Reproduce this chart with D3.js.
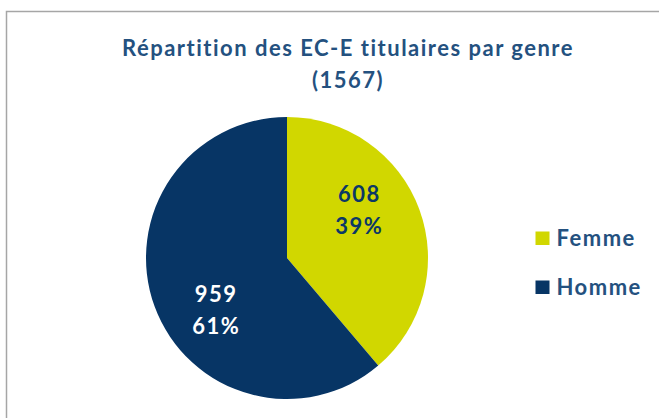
<!DOCTYPE html>
<html><head><meta charset="utf-8">
<script src="https://cdn.jsdelivr.net/npm/d3@7"></script>
<style>html,body{margin:0;padding:0;background:#fff;}svg{display:block;}</style>
</head><body>
<svg id="c" width="659" height="418"></svg>
<script>
const categories = ["Femme", "Homme"];
const values = [608, 959];
const percentLabels = ["39%", "61%"];
const colors = ["#D1D700", "#073565"];
const labelColors = ["#0B3866", "#FFFFFF"];
const titleLines = ["Répartition des EC-E titulaires par genre", "(1567)"];

const svg = d3.select("#c");
const font = "Lato, 'Open Sans', sans-serif";
const titleColor = "#24517F";
const ls = 1.5;

// frame
svg.append("path").attr("d", "M6.5,418 L6.5,11.5 L659,11.5")
  .attr("fill", "none").attr("stroke", "#A6A6A6").attr("stroke-width", 1.5);

// title
svg.append("text").attr("x", 348).attr("y", 56).attr("text-anchor", "middle")
  .attr("font-family", font).attr("font-weight", 700).attr("font-size", 22)
  .attr("letter-spacing", ls).attr("fill", titleColor)
  .selectAll("tspan").data(titleLines).join("tspan")
  .attr("x", 348).attr("dy", (d, i) => i ? 32 : 0).text(d => d);

const cx = 287, cy = 258, r = 141;
const g = svg.append("g").attr("transform", `translate(${cx},${cy})`);
const pie = d3.pie().sort(null).value(d => d.v);
const data = pie(categories.map((c, i) => ({c, v: values[i], p: percentLabels[i], i})));
const arc = d3.arc().innerRadius(0).outerRadius(r);
g.selectAll("path.s").data(data).join("path").attr("class", "s")
  .attr("d", arc).attr("fill", d => colors[d.data.i]);

const lr = 0.62 * r, shift = 0.26;
const lbl = g.selectAll("text.l").data(data).join("text").attr("class", "l")
  .attr("text-anchor", "middle").attr("font-family", font).attr("font-weight", 700)
  .attr("font-size", 22).attr("letter-spacing", ls).attr("fill", d => labelColors[d.data.i])
  .attr("transform", d => {
    const a = (d.startAngle + d.endAngle) / 2 - shift;
    return `translate(${Math.sin(a) * lr + ls / 2},${-Math.cos(a) * lr})`;
  });
lbl.append("tspan").attr("x", 0).attr("y", -6).text(d => d.data.v);
lbl.append("tspan").attr("x", 0).attr("y", 26).text(d => d.data.p);

// legend
const leg = svg.append("g").selectAll("g").data(categories).join("g")
  .attr("transform", (d, i) => `translate(535.5,${231.5 + i * 49})`);
leg.append("rect").attr("width", 14).attr("height", 13.5).attr("fill", (d, i) => colors[i]);
leg.append("text").attr("x", 21).attr("y", 14).attr("font-family", font)
  .attr("font-weight", 700).attr("font-size", 22).attr("letter-spacing", ls)
  .attr("fill", titleColor).text(d => d);
</script>
</body></html>
